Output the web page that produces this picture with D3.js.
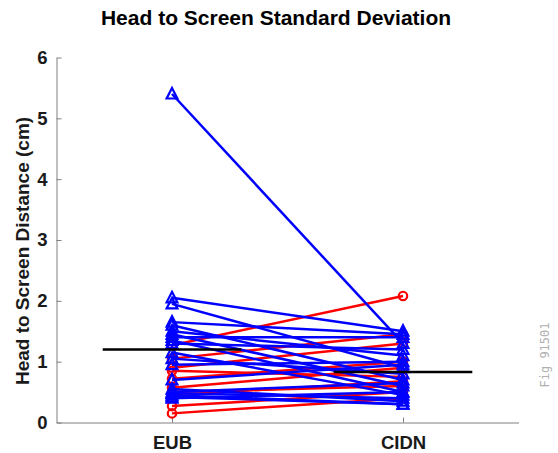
<!DOCTYPE html>
<html><head><meta charset="utf-8">
<script src="https://cdn.jsdelivr.net/npm/d3@7"></script>
<style>body{margin:0;background:#fff}svg{display:block}</style>
</head><body>
<script>
const categories = ["EUB", "CIDN"];
const yTicks = [0, 1, 2, 3, 4, 5, 6];
const title = "Head to Screen Standard Deviation";
const yLabel = "Head to Screen Distance (cm)";
const figTag = "Fig 91501";
// paired values [EUB, CIDN]
const redEUB  = [1.27, 1.05, 0.90, 0.85, 0.72, 0.57, 0.50, 0.45, 0.27, 0.15];
const redCIDN = [2.08, 1.45, 1.30, 0.75, 1.00, 0.90, 0.60, 0.68, 0.50, 0.40];
const blueEUB  = [5.40, 2.05, 1.95, 1.65, 1.60, 1.50, 1.45, 1.40, 1.35, 1.30, 1.15, 1.05, 0.95, 0.70, 0.55, 0.50, 0.48, 0.45, 0.42, 0.40];
const blueCIDN = [1.30, 1.50, 0.90, 1.45, 0.70, 1.10, 0.60, 1.40, 0.50, 1.20, 0.45, 0.80, 1.00, 0.95, 0.35, 0.65, 0.40, 0.30, 0.30, 0.50];
const means = [1.20, 0.83];

const W = 558, H = 453;
const svg = d3.select("body").append("svg").attr("width", W).attr("height", H);
const x = d3.scaleLinear().domain([0.5, 2.5]).range([56.5, 518.5]);
const y = d3.scaleLinear().domain([0, 6]).range([422.5, 57.5]);
const font = "Liberation Sans, Arial, sans-serif";

// axes
const yAxis = d3.axisLeft(y).tickValues(yTicks).tickFormat(d3.format("d")).tickSizeInner(-5).tickSizeOuter(0).tickPadding(9);
const gy = svg.append("g").attr("transform", `translate(${x(0.5)},0)`).call(yAxis);
const xAxis = d3.axisBottom(x).tickValues([1, 2]).tickFormat((d, i) => categories[i]).tickSizeInner(-5).tickSizeOuter(0).tickPadding(13);
const gx = svg.append("g").attr("transform", `translate(0,${y(0)})`).call(xAxis);
[gx, gy].forEach(g => {
  g.select(".domain").attr("stroke", "#808080").attr("stroke-width", 1);
  g.selectAll(".tick line").attr("stroke", "#808080");
  g.selectAll(".tick text").attr("fill", "#1a1a1a").style("font-family", font)
    .style("font-weight", "bold").style("font-size", "18.5px");
});

function drawSeries(a, b, color, marker) {
  const g = svg.append("g");
  a.forEach((v, i) => {
    const pts = [[1, v], [2, b[i]]];
    g.append("line").attr("x1", x(1)).attr("y1", y(v)).attr("x2", x(2)).attr("y2", y(b[i]))
      .attr("stroke", color).attr("stroke-width", 2.5);
    pts.forEach(p => {
      if (marker === "circle") {
        g.append("circle").attr("cx", x(p[0])).attr("cy", y(p[1])).attr("r", 4.2)
          .attr("fill", "none").attr("stroke", color).attr("stroke-width", 2.2);
      } else {
        const s = 6;
        const cx = x(p[0]), cy = y(p[1]);
        g.append("path").attr("d", `M${cx},${cy - s}L${cx + s * 0.9},${cy + s * 0.75}L${cx - s * 0.9},${cy + s * 0.75}Z`)
          .attr("fill", "none").attr("stroke", color).attr("stroke-width", 2.2);
      }
    });
  });
}
drawSeries(redEUB, redCIDN, "#ff0000", "circle");
drawSeries(blueEUB, blueCIDN, "#0000ff", "triangle");

// mean lines
means.forEach((m, i) => {
  svg.append("line").attr("x1", x(i + 1 - 0.3)).attr("x2", x(i + 1 + 0.3))
    .attr("y1", y(m)).attr("y2", y(m)).attr("stroke", "#000").attr("stroke-width", 2.5);
});

svg.append("text").attr("x", 276).attr("y", 25).attr("text-anchor", "middle")
  .style("font-family", font).style("font-weight", "bold").style("font-size", "21px")
  .text(title);
svg.append("text").attr("transform", `translate(29,${251}) rotate(-90)`).attr("text-anchor", "middle")
  .style("font-family", font).style("font-weight", "bold").style("font-size", "19px")
  .attr("fill", "#1a1a1a").text(yLabel);
svg.append("text").attr("transform", `translate(549,${355}) rotate(-90)`).attr("text-anchor", "middle")
  .style("font-family", "DejaVu Sans Mono, monospace").style("font-size", "12px").attr("fill", "#b0b0b0")
  .text(figTag);
</script>
</body></html>
